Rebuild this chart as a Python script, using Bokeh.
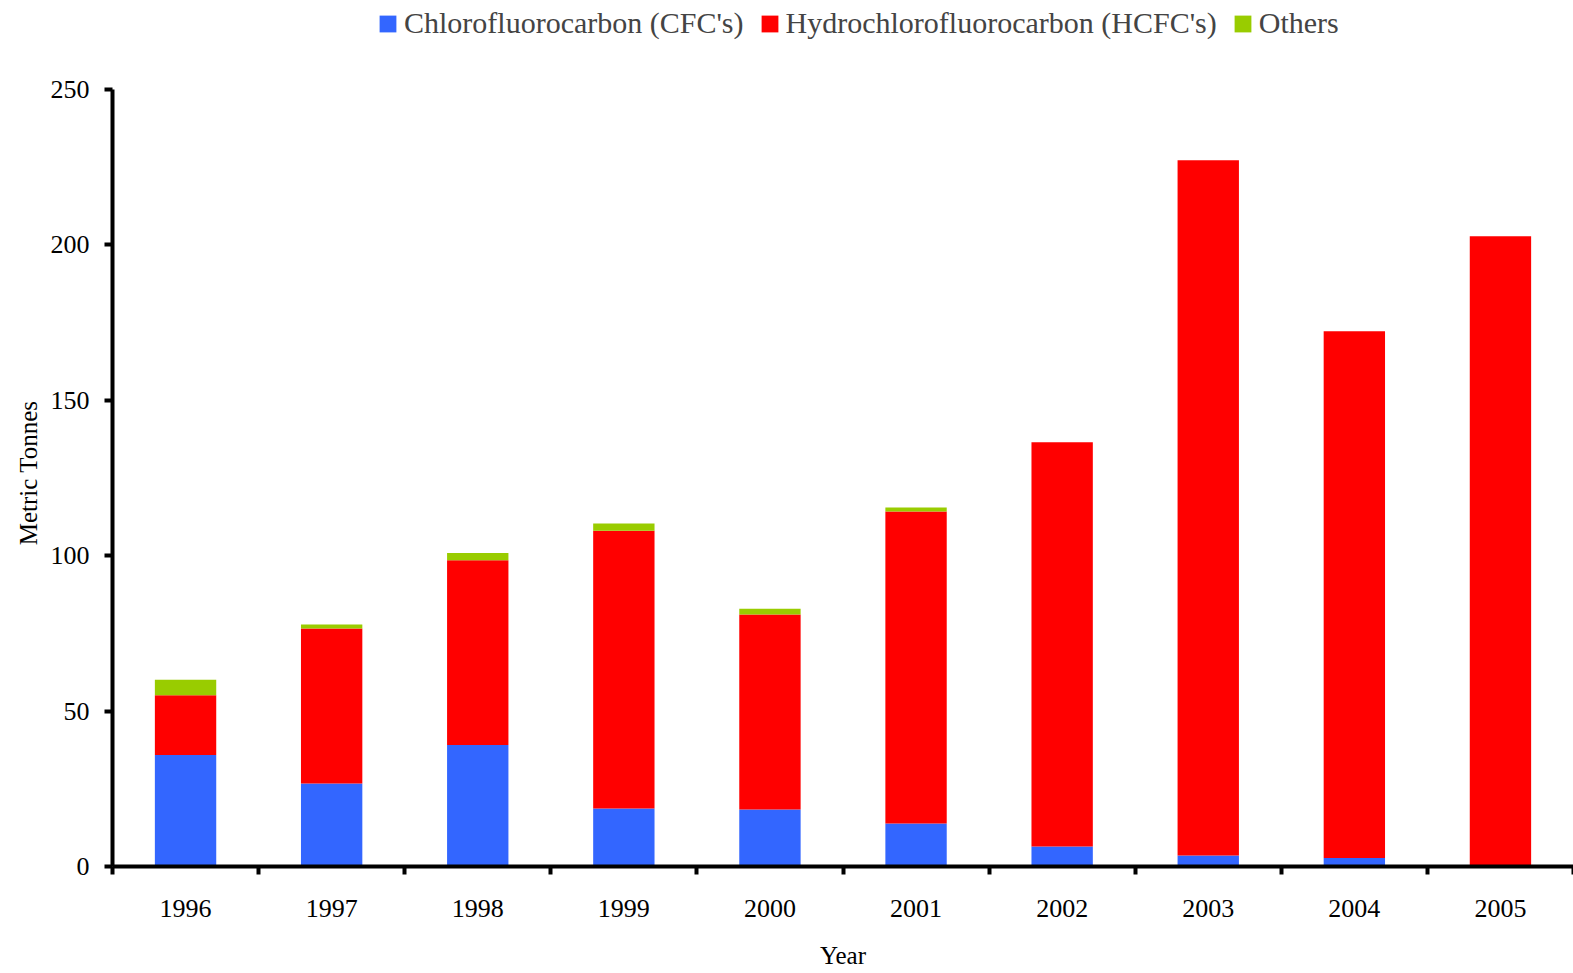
from bokeh.plotting import figure
from bokeh.models import ColumnDataSource, Legend, FixedTicker, Range1d, Title
from bokeh.embed import file_html
from bokeh.resources import INLINE

years = ["1996", "1997", "1998", "1999", "2000", "2001", "2002", "2003", "2004", "2005"]
cfc = [35.9, 26.7, 39.1, 18.7, 18.3, 13.8, 6.4, 3.5, 2.7, 0.0]
hcfc = [19.2, 49.9, 59.4, 89.3, 62.8, 100.4, 130.1, 223.7, 169.5, 202.8]
others = [5.0, 1.3, 2.4, 2.4, 1.8, 1.3, 0.0, 0.0, 0.0, 0.0]
series = ["cfc", "hcfc", "others"]
labels = ["Chlorofluorocarbon (CFC's)", "Hydrochlorofluorocarbon (HCFC's)", "Others"]
colors = ["#3366FF", "#FF0000", "#99CC00"]
y_ticks = [0, 50, 100, 150, 200, 250]
y_max = 250

# frame runs to the top of the page; the axis itself stops at y_max,
# leaving headroom above it for the legend (866 px frame, 777 px axis)
FRAME_H, AXIS_H = 866, 777
y_end = y_max * FRAME_H / AXIS_H

xpos = [i + 0.5 for i in range(len(years))]
source = ColumnDataSource(dict(x=xpos, cfc=cfc, hcfc=hcfc, others=others))

FONT = "Liberation Serif"

p = figure(width=1573, height=973, output_backend="svg", toolbar_location=None,
           x_range=Range1d(0, len(years)), y_range=Range1d(0, y_end),
           min_border_left=112, min_border_right=0, min_border_bottom=107,
           min_border_top=0)
p.outline_line_color = None
p.grid.grid_line_color = None
p.background_fill_color = "white"
p.border_fill_color = "white"

renderers = p.vbar_stack(series, x="x", width=0.42, source=source,
                         color=colors, line_color=None)

legend = Legend(items=[(lab, [r]) for lab, r in zip(labels, renderers)],
                orientation="horizontal", location=(265, 826),
                label_text_font=FONT, label_text_font_size="30px",
                glyph_width=21, glyph_height=21, label_standoff=6, spacing=15,
                border_line_color=None, background_fill_alpha=0,
                padding=0, margin=0)
p.add_layout(legend, "center")

# x axis: labels at category centres, ticks at category boundaries
xa = p.xaxis[0]
xa.ticker = FixedTicker(ticks=xpos, minor_ticks=list(range(len(years) + 1)))
xa.major_label_overrides = {x: y for x, y in zip(xpos, years)}
xa.major_tick_out = 0
xa.major_tick_in = 0
xa.minor_tick_out = 8
xa.minor_tick_in = 0
xa.minor_tick_line_width = 4
xa.minor_tick_line_color = "black"
xa.axis_line_width = 4
xa.axis_line_color = "black"
xa.major_label_text_font = FONT
xa.major_label_text_font_size = "26px"
xa.major_label_text_color = "black"
xa.major_label_standoff = 25
xa.axis_label = "Year"
xa.axis_label_text_font = FONT
xa.axis_label_text_font_size = "25px"
xa.axis_label_text_font_style = "normal"
xa.axis_label_text_color = "black"
xa.axis_label_standoff = 22

ya = p.yaxis[0]
ya.ticker = FixedTicker(ticks=y_ticks)
ya.bounds = (0, y_max)
ya.major_tick_out = 8
ya.major_tick_in = 0
ya.major_tick_line_width = 4
ya.minor_tick_out = 0
ya.minor_tick_in = 0
ya.axis_line_width = 4
ya.axis_line_color = "black"
ya.major_label_text_font = FONT
ya.major_label_text_font_size = "26px"
ya.major_label_text_color = "black"
ya.major_label_standoff = 15

# y-axis title, centred on the drawn axis (0..y_max) rather than the frame
ytitle = Title(text="Metric Tonnes", align="right", offset=400,
               text_font=FONT, text_font_size="25px", text_font_style="normal",
               text_color="black", standoff=12)
p.add_layout(ytitle, "left")

open("out.html", "w").write(file_html(p, INLINE))
